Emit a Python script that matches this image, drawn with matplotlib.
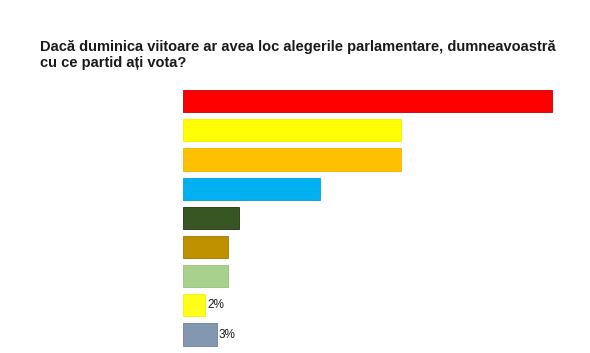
import matplotlib.pyplot as plt

# Date (procente)
partide = ['P1', 'P2', 'P3', 'P4', 'P5', 'P6', 'P7', 'P8', 'P9']
procente = [32.8, 19.4, 19.4, 12.2, 5, 4, 4, 2, 3]
culori = ['#FF0000', '#FFFF00', '#FFC000', '#00B0F0', '#375623',
          '#BF9000', '#A9D18E', '#FFFF1A', '#8497B0']
margini = ['#C00000', '#F2F200', '#F0B400', '#00A0E0', '#1E3012',
           '#A07800', '#98C07C', '#F2F200', '#6F7F95']
etichete = ['', '', '', '', '', '', '', '2%', '3%']

plt.rcParams['font.family'] = ['Liberation Sans', 'DejaVu Sans']

fig = plt.figure(figsize=(5.9, 3.53), dpi=100)
ax = fig.add_axes([0.310, 0.011, 0.648, 0.744])

poz = range(len(partide))
bars = ax.barh(poz, procente, height=0.76, color=culori,
               edgecolor=margini, linewidth=0.6)

for bar, et in zip(bars, etichete):
    if et:
        ax.text(bar.get_width() + 0.2, bar.get_y() + bar.get_height() / 2,
                et, va='center', ha='left', fontsize=8.5, color='#1a1a1a')

ax.set_xlim(0, 34)
ax.set_ylim(len(partide) - 0.5, -0.5)
ax.axis('off')

fig.text(0.068, 1 - 40 / 353,
         'Dacă duminica viitoare ar avea loc alegerile parlamentare, dumneavoastră\ncu ce partid ați vota?',
         ha='left', va='top', fontsize=10.5, fontweight='bold', color='#1a1a1a',
         linespacing=1.15)

fig.savefig('out.png', dpi=100)
